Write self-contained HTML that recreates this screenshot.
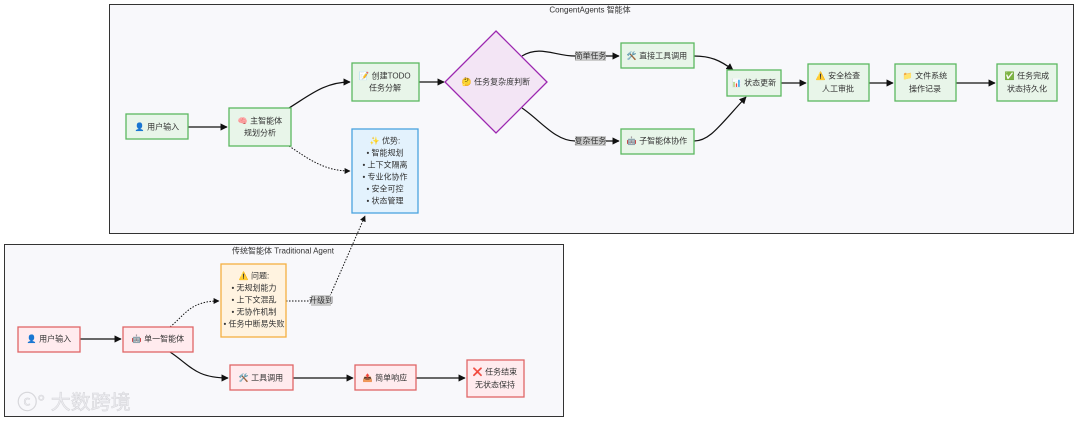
<!DOCTYPE html>
<html><head><meta charset="utf-8"><style>
html,body{margin:0;padding:0;background:#fff;}
svg{display:block;}
text{font-family:"Liberation Sans","Noto Sans CJK SC",sans-serif;font-size:8px;fill:#333;text-anchor:middle;dominant-baseline:central;}
.t{font-family:"Liberation Sans","Noto Sans CJK SC",sans-serif;font-size:8px;}
.g{fill:#e8f5e9;stroke:#5cb860;stroke-width:1.3;}
.r{fill:#ffebee;stroke:#e06666;stroke-width:1.3;}
.o{fill:#fff3e0;stroke:#f5b042;stroke-width:1.3;}
.b{fill:#e3f2fd;stroke:#4aa3df;stroke-width:1.3;}
.e{fill:none;stroke:#111;stroke-width:1.2;}
.d{fill:none;stroke:#111;stroke-width:1;stroke-dasharray:1.5 1.5;}
</style></head><body>
<svg width="1080" height="422" viewBox="0 0 1080 422">
<defs><marker id="a" viewBox="0 0 10 10" refX="9" refY="5" markerWidth="6" markerHeight="6" orient="auto"><path d="M0,0L10,5L0,10z" fill="#111"/></marker></defs>
<rect x="109.5" y="4.5" width="964" height="229" fill="#f8f8fb" stroke="#333" stroke-width="1"/>
<text x="590" y="10" class="t">CongentAgents 智能体</text>
<rect x="4.5" y="244.5" width="559" height="172" fill="#f8f8fb" stroke="#333" stroke-width="1"/>
<text x="283" y="251" class="t">传统智能体 Traditional Agent</text>

<path class="e" d="M188,127H227" marker-end="url(#a)"/>
<path class="e" d="M289,108C310,95 325,82 350,82" marker-end="url(#a)"/>
<path class="d" d="M289,146C310,160 325,171 350,171" marker-end="url(#a)"/>
<path class="e" d="M419,82H444" marker-end="url(#a)"/>
<path class="e" d="M522,56C540,45 555,56 575,56 M606,56H619" marker-end="url(#a)"/>
<path class="e" d="M522,108C540,120 555,141 575,141 M606,141H619" marker-end="url(#a)"/>
<path class="e" d="M694,56C710,56 720,60 733,70" marker-end="url(#a)"/>
<path class="e" d="M694,141C710,141 720,125 746,97" marker-end="url(#a)"/>
<path class="e" d="M781,83H806" marker-end="url(#a)"/>
<path class="e" d="M869,83H893" marker-end="url(#a)"/>
<path class="e" d="M956,83H995" marker-end="url(#a)"/>
<rect x="575" y="51" width="31" height="10" fill="#ccc"/><text x="590.5" y="56">简单任务</text>
<rect x="575" y="136" width="31" height="10" fill="#ccc"/><text x="590.5" y="141">复杂任务</text>

<rect class="g" x="126" y="114" width="62" height="25"/><text x="157" y="127">👤 用户输入</text>
<rect class="g" x="229" y="108" width="62" height="38"/><text x="260" y="121">🧠 主智能体</text><text x="260" y="133">规划分析</text>
<rect class="g" x="352" y="63" width="67" height="38"/><text x="385" y="76">📝 创建TODO</text><text x="385" y="88">任务分解</text>
<path d="M496,31L547,82L496,133L445,82z" fill="#f3e5f5" stroke="#9c27b0" stroke-width="1.3"/><text x="496" y="82">🤔 任务复杂度判断</text>
<rect class="g" x="621" y="43" width="73" height="25"/><text x="657" y="56">🛠️ 直接工具调用</text>
<rect class="g" x="621" y="129" width="73" height="25"/><text x="657" y="141">🤖 子智能体协作</text>
<rect class="g" x="727" y="70" width="54" height="26"/><text x="754" y="83">📊 状态更新</text>
<rect class="g" x="808" y="64" width="61" height="37"/><text x="838" y="76">⚠️ 安全检查</text><text x="838" y="89">人工审批</text>
<rect class="g" x="895" y="64" width="61" height="37"/><text x="925" y="76">📁 文件系统</text><text x="925" y="89">操作记录</text>
<rect class="g" x="997" y="64" width="60" height="37"/><text x="1027" y="76">✅ 任务完成</text><text x="1027" y="89">状态持久化</text>
<rect class="b" x="352" y="129" width="66" height="84"/>
<text x="385" y="141">✨ 优势:</text><text x="385" y="153">• 智能规划</text><text x="385" y="165">• 上下文隔离</text><text x="385" y="177">• 专业化协作</text><text x="385" y="189">• 安全可控</text><text x="385" y="201">• 状态管理</text>

<path class="e" d="M80,339H121" marker-end="url(#a)"/>
<path class="d" d="M170,327C185,315 190,301 219,301" marker-end="url(#a)"/>
<path class="e" d="M170,352C190,365 195,378 228,378" marker-end="url(#a)"/>
<path class="e" d="M293,378H353" marker-end="url(#a)"/>
<path class="e" d="M416,378H465" marker-end="url(#a)"/>
<path class="d" d="M286,301H311 M330,296L365,216" marker-end="url(#a)"/>
<rect x="311" y="295" width="20" height="11" fill="#ccc"/><text x="321" y="300.5">升级到</text>

<rect class="r" x="18" y="327" width="62" height="25"/><text x="49" y="339">👤 用户输入</text>
<rect class="r" x="123" y="327" width="70" height="25"/><text x="158" y="339">🤖 单一智能体</text>
<rect class="o" x="221" y="264" width="65" height="73"/>
<text x="254" y="276">⚠️ 问题:</text><text x="254" y="288">• 无规划能力</text><text x="254" y="300">• 上下文混乱</text><text x="254" y="312">• 无协作机制</text><text x="254" y="324">• 任务中断易失败</text>
<rect class="r" x="230" y="365" width="63" height="25"/><text x="261" y="378">🛠️ 工具调用</text>
<rect class="r" x="355" y="365" width="61" height="25"/><text x="385" y="378">📤 简单响应</text>
<rect class="r" x="467" y="360" width="57" height="37"/><text x="495" y="372">❌ 任务结束</text><text x="495" y="385">无状态保持</text>

<text x="74" y="403" style="font-size:20px;fill:#ececf0;stroke:#d4d4d8;stroke-width:0.5">ⓒ° 大数跨境</text>
</svg>
</body></html>
